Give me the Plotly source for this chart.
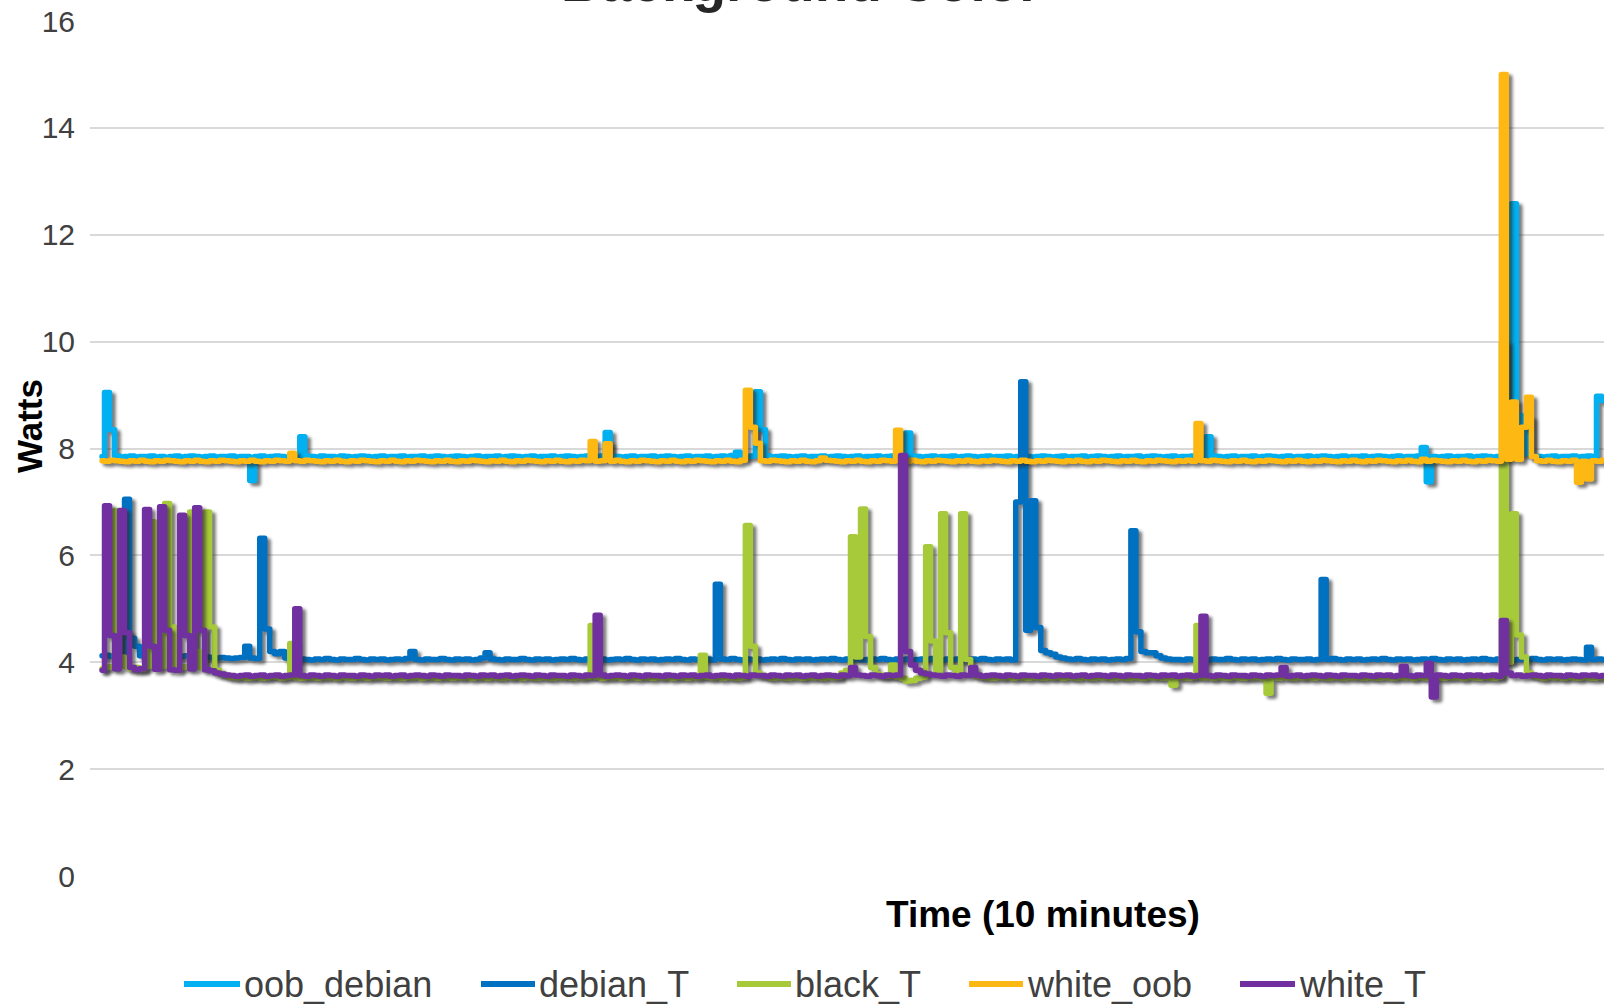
import plotly.graph_objects as go

# ---------------- data (Watts, one sample per time step) ----------------
series_names = ["oob_debian", "debian_T", "black_T", "white_oob", "white_T"]
series_colors = ["#00B0F0", "#0070C0", "#A6CA3A", "#FDB813", "#7030A0"]

oob_debian = [
    7.85, 9.05, 8.35, 7.86, 7.84, 7.85, 7.86, 7.84, 7.85, 7.85, 7.86, 7.84, 7.85, 7.83, 7.85, 7.86, 7.84, 7.85, 7.86, 7.85,
    7.84, 7.85, 7.86, 7.84, 7.85, 7.85, 7.86, 7.84, 7.85, 7.85, 7.40, 7.85, 7.86, 7.84, 7.85, 7.86, 7.85, 7.84, 7.85, 7.86,
    8.22, 7.86, 7.85, 7.84, 7.86, 7.85, 7.85, 7.84, 7.86, 7.85, 7.84, 7.85, 7.86, 7.85, 7.84, 7.85, 7.86, 7.84, 7.85, 7.85,
    7.86, 7.84, 7.85, 7.85, 7.86, 7.84, 7.85, 7.86, 7.85, 7.84, 7.85, 7.86, 7.85, 7.84, 7.85, 7.86, 7.84, 7.85, 7.85, 7.86,
    7.84, 7.85, 7.86, 7.85, 7.84, 7.85, 7.86, 7.84, 7.85, 7.85, 7.86, 7.84, 7.85, 7.86, 7.85, 7.84, 7.85, 7.86, 7.85, 7.84,
    7.86, 8.30, 7.86, 7.85, 7.84, 7.85, 7.86, 7.84, 7.85, 7.85, 7.86, 7.84, 7.85, 7.86, 7.85, 7.84, 7.85, 7.86, 7.84, 7.85,
    7.85, 7.86, 7.84, 7.85, 7.86, 7.85, 7.87, 7.93, 7.86, 7.85, 7.86, 9.06, 8.35, 7.86, 7.84, 7.85, 7.86, 7.85, 7.84, 7.85,
    7.86, 7.84, 7.85, 7.85, 7.86, 7.84, 7.85, 7.86, 7.85, 7.84, 7.85, 7.86, 7.84, 7.85, 7.85, 7.86, 7.84, 7.85, 7.86, 7.85,
    7.86, 8.29, 7.86, 7.85, 7.84, 7.85, 7.86, 7.84, 7.85, 7.85, 7.86, 7.84, 7.85, 7.86, 7.85, 7.84, 7.85, 7.86, 7.84, 7.85,
    7.85, 7.86, 7.84, 7.85, 7.86, 7.85, 7.84, 7.85, 7.86, 7.85, 7.84, 7.85, 7.86, 7.84, 7.85, 7.85, 7.86, 7.84, 7.85, 7.86,
    7.85, 7.84, 7.85, 7.86, 7.84, 7.85, 7.85, 7.86, 7.84, 7.85, 7.86, 7.85, 7.84, 7.85, 7.86, 7.84, 7.85, 7.85, 7.86, 7.84,
    7.85, 8.22, 7.86, 7.85, 7.84, 7.85, 7.86, 7.84, 7.85, 7.85, 7.86, 7.84, 7.85, 7.86, 7.85, 7.84, 7.85, 7.86, 7.84, 7.85,
    7.85, 7.86, 7.84, 7.85, 7.86, 7.85, 7.84, 7.85, 7.86, 7.84, 7.85, 7.85, 7.86, 7.84, 7.85, 7.86, 7.85, 7.84, 7.85, 7.86,
    7.84, 7.85, 7.85, 7.86, 8.02, 7.38, 7.85, 7.84, 7.85, 7.86, 7.84, 7.85, 7.85, 7.86, 7.84, 7.85, 7.86, 7.85, 7.84, 7.85,
    7.86, 7.90, 12.58, 8.62, 7.90, 8.56, 7.86, 7.85, 7.84, 7.85, 7.86, 7.84, 7.85, 7.85, 7.86, 7.84, 7.85, 7.86, 7.85, 8.98,
    8.90,
]

debian_T = [
    4.12, 4.13, 4.11, 4.12, 4.13, 7.05, 4.45, 4.30, 4.12, 4.11, 4.12, 4.13, 4.12, 4.11, 4.12, 4.13, 4.11, 4.12, 4.12, 4.11,
    4.12, 4.10, 4.09, 4.08, 4.09, 4.08, 4.07, 4.08, 4.09, 4.30, 4.08, 4.07, 6.32, 4.62, 4.20, 4.16, 4.20, 4.08, 4.06, 4.05,
    4.06, 4.05, 4.04, 4.06, 4.05, 4.07, 4.05, 4.04, 4.06, 4.05, 4.05, 4.07, 4.05, 4.04, 4.06, 4.05, 4.06, 4.04, 4.05, 4.06,
    4.05, 4.07, 4.20, 4.05, 4.04, 4.06, 4.05, 4.05, 4.07, 4.05, 4.04, 4.06, 4.05, 4.06, 4.04, 4.05, 4.08, 4.18, 4.06, 4.05,
    4.04, 4.06, 4.05, 4.05, 4.07, 4.05, 4.04, 4.06, 4.05, 4.06, 4.04, 4.05, 4.06, 4.05, 4.07, 4.05, 4.04, 4.06, 4.05, 4.05,
    4.06, 4.04, 4.05, 4.06, 4.05, 4.07, 4.05, 4.04, 4.06, 4.05, 4.06, 4.04, 4.05, 4.06, 4.05, 4.07, 4.05, 4.04, 4.06, 4.05,
    4.05, 4.06, 4.04, 5.46, 4.06, 4.05, 4.07, 4.05, 4.04, 4.06, 4.05, 4.06, 4.04, 4.05, 4.06, 4.05, 4.07, 4.05, 4.04, 4.06,
    4.05, 4.06, 4.04, 4.05, 4.06, 4.05, 4.07, 4.05, 4.04, 4.06, 4.05, 4.06, 4.04, 4.05, 4.06, 4.05, 4.07, 4.05, 4.04, 4.06,
    4.05, 4.06, 4.04, 4.05, 4.06, 4.05, 4.07, 4.05, 4.04, 4.06, 4.05, 4.06, 4.04, 4.05, 4.06, 4.05, 4.07, 4.05, 4.04, 4.06,
    4.05, 4.06, 4.04, 7.00, 9.25, 4.60, 7.02, 4.65, 4.22, 4.18, 4.15, 4.10, 4.08, 4.06, 4.05, 4.07, 4.05, 4.04, 4.06, 4.05,
    4.06, 4.04, 4.05, 4.06, 4.05, 4.07, 6.46, 4.57, 4.20, 4.18, 4.18, 4.12, 4.08, 4.06, 4.05, 4.05, 4.04, 4.06, 4.05, 4.06,
    4.05, 4.04, 4.06, 4.05, 4.05, 4.07, 4.05, 4.04, 4.06, 4.05, 4.06, 4.04, 4.05, 4.06, 4.05, 4.07, 4.05, 4.04, 4.06, 4.05,
    4.05, 4.06, 4.04, 4.05, 5.55, 4.05, 4.07, 4.05, 4.04, 4.06, 4.05, 4.06, 4.04, 4.05, 4.06, 4.05, 4.07, 4.05, 4.04, 4.06,
    4.05, 4.06, 4.04, 4.05, 4.06, 4.05, 4.07, 4.05, 4.04, 4.06, 4.05, 4.06, 4.04, 4.05, 4.06, 4.05, 4.07, 4.05, 4.04, 4.06,
    4.05, 4.06, 4.04, 4.05, 4.06, 4.05, 4.07, 4.05, 4.04, 4.06, 4.05, 4.06, 4.04, 4.05, 4.06, 4.05, 4.04, 4.28, 4.05, 4.06,
    4.05,
]

black_T = [
    3.88, 3.90, 3.92, 6.84, 4.10, 3.92, 3.88, 3.90, 3.87, 3.92, 6.63, 4.05, 3.92, 6.97, 4.66, 3.95, 3.90, 3.92, 6.81, 4.20,
    3.90, 6.81, 4.66, 3.85, 3.78, 3.75, 3.72, 3.71, 3.72, 3.70, 3.71, 3.72, 3.70, 3.71, 3.73, 3.72, 3.70, 3.72, 4.35, 3.71,
    3.70, 3.72, 3.71, 3.70, 3.72, 3.71, 3.73, 3.70, 3.72, 3.71, 3.70, 3.72, 3.71, 3.70, 3.72, 3.71, 3.73, 3.70, 3.72, 3.71,
    3.70, 3.72, 3.71, 3.73, 3.70, 3.72, 3.71, 3.70, 3.72, 3.71, 3.70, 3.72, 3.71, 3.73, 3.70, 3.72, 3.71, 3.70, 3.72, 3.71,
    3.70, 3.72, 3.71, 3.73, 3.70, 3.72, 3.71, 3.70, 3.72, 3.71, 3.70, 3.72, 3.71, 3.73, 3.70, 3.72, 3.71, 3.72, 4.69, 3.72,
    3.70, 3.72, 3.71, 3.73, 3.70, 3.72, 3.71, 3.70, 3.72, 3.71, 3.70, 3.72, 3.71, 3.73, 3.70, 3.72, 3.71, 3.70, 3.72, 3.71,
    4.13, 3.72, 3.71, 3.73, 3.70, 3.72, 3.71, 3.70, 3.72, 6.56, 4.30, 3.80, 3.75, 3.73, 3.70, 3.72, 3.71, 3.70, 3.72, 3.71,
    3.70, 3.72, 3.71, 3.73, 3.70, 3.72, 3.71, 3.72, 3.80, 3.85, 6.35, 4.10, 6.87, 4.48, 3.90, 3.78, 3.75, 3.74, 3.95, 3.72,
    3.70, 3.65, 3.66, 3.70, 3.72, 6.16, 4.40, 3.85, 6.78, 4.55, 3.90, 3.82, 6.78, 4.05, 3.80, 3.74, 3.72, 3.71, 3.70, 3.72,
    3.71, 3.73, 3.70, 3.72, 3.71, 3.70, 3.72, 3.71, 3.70, 3.72, 3.71, 3.73, 3.70, 3.72, 3.71, 3.70, 3.72, 3.71, 3.70, 3.72,
    3.71, 3.73, 3.70, 3.72, 3.71, 3.70, 3.72, 3.71, 3.70, 3.72, 3.71, 3.73, 3.70, 3.72, 3.57, 3.72, 3.71, 3.70, 3.72, 4.69,
    3.71, 3.73, 3.70, 3.72, 3.71, 3.70, 3.72, 3.71, 3.70, 3.72, 3.71, 3.73, 3.70, 3.42, 3.71, 3.70, 3.72, 3.71, 3.70, 3.72,
    3.71, 3.73, 3.70, 3.72, 3.71, 3.70, 3.72, 3.71, 3.70, 3.72, 3.71, 3.73, 3.70, 3.72, 3.71, 3.70, 3.72, 3.71, 3.70, 3.72,
    3.71, 3.73, 3.70, 3.72, 3.71, 3.70, 3.72, 3.71, 3.70, 3.72, 3.71, 3.73, 3.70, 3.72, 3.71, 3.70, 3.72, 3.71, 3.70, 3.72,
    9.97, 4.00, 6.78, 4.51, 4.10, 3.80, 3.75, 3.72, 3.70, 3.72, 3.71, 3.73, 3.70, 3.72, 3.71, 3.70, 3.72, 3.71, 3.70, 3.72,
    3.71,
]

white_oob = [
    7.77, 7.76, 7.78, 7.77, 7.76, 7.75, 7.77, 7.76, 7.78, 7.76, 7.75, 7.77, 7.76, 7.78, 7.77, 7.76, 7.75, 7.77, 7.76, 7.78,
    7.76, 7.75, 7.77, 7.76, 7.78, 7.77, 7.76, 7.75, 7.77, 7.76, 7.78, 7.76, 7.75, 7.77, 7.76, 7.78, 7.77, 7.76, 7.91, 7.77,
    7.76, 7.78, 7.77, 7.76, 7.75, 7.77, 7.76, 7.78, 7.76, 7.75, 7.77, 7.76, 7.78, 7.77, 7.76, 7.75, 7.77, 7.76, 7.78, 7.76,
    7.75, 7.77, 7.76, 7.78, 7.77, 7.76, 7.75, 7.77, 7.76, 7.78, 7.76, 7.75, 7.77, 7.76, 7.78, 7.77, 7.76, 7.75, 7.77, 7.76,
    7.78, 7.76, 7.75, 7.77, 7.76, 7.78, 7.77, 7.76, 7.75, 7.77, 7.76, 7.78, 7.76, 7.75, 7.77, 7.76, 7.78, 7.77, 8.13, 7.76,
    7.77, 8.09, 7.76, 7.78, 7.76, 7.75, 7.77, 7.76, 7.78, 7.77, 7.76, 7.75, 7.77, 7.76, 7.78, 7.76, 7.75, 7.77, 7.76, 7.78,
    7.77, 7.76, 7.75, 7.77, 7.76, 7.78, 7.76, 7.75, 7.78, 9.09, 8.40, 8.10, 7.77, 7.76, 7.78, 7.77, 7.76, 7.75, 7.77, 7.76,
    7.78, 7.76, 7.75, 7.77, 7.82, 7.78, 7.77, 7.76, 7.75, 7.77, 7.76, 7.78, 7.76, 7.75, 7.77, 7.76, 7.78, 7.77, 7.76, 8.34,
    7.77, 7.76, 7.78, 7.76, 7.75, 7.77, 7.76, 7.78, 7.77, 7.76, 7.75, 7.77, 7.76, 7.78, 7.76, 7.75, 7.77, 7.76, 7.78, 7.77,
    7.76, 7.75, 7.77, 7.76, 7.78, 7.76, 7.75, 7.77, 7.76, 7.78, 7.77, 7.76, 7.75, 7.77, 7.76, 7.78, 7.76, 7.75, 7.77, 7.76,
    7.78, 7.77, 7.76, 7.75, 7.77, 7.76, 7.78, 7.76, 7.75, 7.77, 7.76, 7.78, 7.77, 7.76, 7.75, 7.77, 7.76, 7.78, 7.76, 8.47,
    7.77, 7.76, 7.78, 7.77, 7.76, 7.75, 7.77, 7.76, 7.78, 7.76, 7.75, 7.77, 7.76, 7.78, 7.77, 7.76, 7.75, 7.77, 7.76, 7.78,
    7.76, 7.75, 7.77, 7.76, 7.78, 7.77, 7.76, 7.75, 7.77, 7.76, 7.78, 7.76, 7.75, 7.77, 7.76, 7.78, 7.77, 7.76, 7.75, 7.77,
    7.76, 7.78, 7.76, 7.75, 7.80, 7.76, 7.78, 7.77, 7.76, 7.75, 7.77, 7.76, 7.78, 7.76, 7.75, 7.77, 7.76, 7.78, 7.77, 7.76,
    15.00, 7.80, 8.87, 7.80, 8.40, 8.96, 7.85, 7.77, 7.76, 7.78, 7.76, 7.75, 7.77, 7.76, 7.78, 7.37, 7.76, 7.43, 7.77, 7.76,
    7.78,
]

white_T = [
    3.85, 6.93, 4.50, 3.88, 6.84, 4.55, 3.90, 3.86, 3.88, 6.86, 4.30, 3.87, 6.91, 4.60, 3.86, 3.85, 6.75, 4.50, 3.88, 6.89,
    4.60, 3.86, 3.84, 3.80, 3.78, 3.76, 3.75, 3.74, 3.75, 3.76, 3.74, 3.75, 3.76, 3.74, 3.75, 3.76, 3.74, 3.75, 3.76, 5.00,
    3.75, 3.74, 3.76, 3.75, 3.74, 3.76, 3.75, 3.74, 3.76, 3.75, 3.75, 3.74, 3.76, 3.75, 3.74, 3.76, 3.75, 3.76, 3.74, 3.75,
    3.76, 3.74, 3.75, 3.76, 3.75, 3.74, 3.76, 3.75, 3.74, 3.76, 3.75, 3.75, 3.74, 3.76, 3.75, 3.74, 3.76, 3.75, 3.76, 3.74,
    3.75, 3.76, 3.74, 3.75, 3.76, 3.75, 3.74, 3.76, 3.75, 3.74, 3.76, 3.75, 3.75, 3.74, 3.76, 3.75, 3.74, 3.76, 3.75, 4.88,
    3.76, 3.74, 3.75, 3.76, 3.75, 3.74, 3.76, 3.75, 3.74, 3.76, 3.75, 3.75, 3.74, 3.76, 3.75, 3.74, 3.76, 3.75, 3.76, 3.74,
    3.75, 3.76, 3.74, 3.75, 3.76, 3.75, 3.74, 3.76, 3.75, 3.74, 3.76, 3.75, 3.75, 3.74, 3.76, 3.75, 3.74, 3.76, 3.75, 3.76,
    3.74, 3.75, 3.76, 3.74, 3.75, 3.76, 3.75, 3.74, 3.76, 3.75, 3.90, 3.76, 3.75, 3.74, 3.76, 3.75, 3.74, 3.76, 3.75, 3.76,
    7.87, 4.20, 3.95, 3.85, 3.80, 3.78, 3.76, 3.75, 3.74, 3.76, 3.75, 3.74, 3.76, 3.75, 3.90, 3.76, 3.74, 3.75, 3.76, 3.75,
    3.74, 3.76, 3.75, 3.74, 3.76, 3.75, 3.75, 3.74, 3.76, 3.75, 3.74, 3.76, 3.75, 3.76, 3.74, 3.75, 3.76, 3.74, 3.75, 3.76,
    3.75, 3.74, 3.76, 3.75, 3.74, 3.76, 3.75, 3.75, 3.74, 3.76, 3.75, 3.74, 3.76, 3.75, 3.76, 3.74, 3.75, 3.76, 3.74, 3.75,
    4.86, 3.75, 3.74, 3.76, 3.75, 3.74, 3.76, 3.75, 3.75, 3.74, 3.76, 3.75, 3.74, 3.76, 3.75, 3.76, 3.90, 3.74, 3.75, 3.76,
    3.74, 3.75, 3.76, 3.75, 3.74, 3.76, 3.75, 3.74, 3.76, 3.75, 3.75, 3.74, 3.76, 3.75, 3.74, 3.76, 3.75, 3.76, 3.74, 3.75,
    3.92, 3.75, 3.74, 3.76, 3.75, 3.98, 3.35, 3.76, 3.75, 3.74, 3.76, 3.75, 3.74, 3.76, 3.75, 3.76, 3.74, 3.75, 3.76, 3.74,
    4.78, 3.80, 3.75, 3.76, 3.74, 3.75, 3.76, 3.75, 3.74, 3.76, 3.75, 3.75, 3.74, 3.76, 3.75, 3.74, 3.76, 3.75, 3.76, 3.74,
    3.75,
]

y_ticks = [0, 2, 4, 6, 8, 10, 12, 14, 16]
chart_title = "Background Color"
x_title = "Time (10 minutes)"
y_title = "Watts"

all_series = [oob_debian, debian_T, black_T, white_oob, white_T]
time_steps = list(range(len(oob_debian)))

# ---------------- layout geometry (pixels) ----------------
W, H = 1604, 1004
L, R, T, B = 90, 0, 21, 128
PW, PH = W - L - R, H - T - B
x_range = [-2.4, 300.0]
y_range = [0, 16]
px_per_x = PW / (x_range[1] - x_range[0])
px_per_y = PH / (y_range[1] - y_range[0])
shadow_dx = 3.5 / px_per_x
shadow_dy = 3.0 / px_per_y
LINE_W = 5.5


def paper_x(px):
    return (px - L) / PW


def paper_y(py):
    return (H - B - py) / PH


FONT = "Liberation Sans, Arial, sans-serif"
TEXT = "#404040"

fig = go.Figure()
for name, color, vals in zip(series_names, series_colors, all_series):
    # soft drop shadow (same data, shifted a few pixels right/down)
    fig.add_trace(go.Scatter(
        x=[t + shadow_dx for t in time_steps], y=[v - shadow_dy for v in vals],
        mode="lines", line=dict(color="rgba(40,40,40,0.6)", width=LINE_W, shape="hvh"),
        hoverinfo="skip", showlegend=False, name=name + " shadow"))
    fig.add_trace(go.Scatter(
        x=time_steps, y=vals, mode="lines", name=name,
        line=dict(color=color, width=LINE_W, shape="hvh"), showlegend=False))

shapes = []
annotations = []

# manual legend
legend_line_px = [(184, 240), (481, 535), (737, 791), (969, 1023), (1240, 1295)]
legend_y = 984
for (a, b), name, color in zip(legend_line_px, series_names, series_colors):
    shapes.append(dict(type="line", xref="paper", yref="paper",
                       x0=paper_x(a), x1=paper_x(b), y0=paper_y(legend_y), y1=paper_y(legend_y),
                       line=dict(color=color, width=6)))
    annotations.append(dict(text=name, xref="paper", yref="paper",
                            x=paper_x(b + 2), y=paper_y(legend_y),
                            xanchor="left", yanchor="middle", showarrow=False,
                            font=dict(family=FONT, size=36, color=TEXT)))

# axis titles and (cropped) chart title
annotations.append(dict(text="<b>" + x_title + "</b>", xref="paper", yref="paper",
                        x=paper_x(1043), y=paper_y(914), xanchor="center", yanchor="middle",
                        showarrow=False, font=dict(family=FONT, size=37, color="#000000")))
annotations.append(dict(text="<b>" + y_title + "</b>", xref="paper", yref="paper",
                        x=paper_x(29), y=paper_y(426), xanchor="center", yanchor="middle",
                        textangle=-90, showarrow=False,
                        font=dict(family=FONT, size=35, color="#000000")))
annotations.append(dict(text="<b>" + chart_title + "</b>", xref="paper", yref="paper",
                        x=paper_x(801), y=paper_y(-18), xanchor="center", yanchor="middle",
                        showarrow=False, font=dict(family=FONT, size=55, color="#262626")))

fig.update_layout(
    width=W, height=H,
    margin=dict(l=L, r=R, t=T, b=B, pad=0),
    paper_bgcolor="white", plot_bgcolor="white",
    showlegend=False,
    shapes=shapes, annotations=annotations,
    xaxis=dict(range=x_range, showgrid=False, zeroline=False, showline=False,
               showticklabels=False, ticks=""),
    yaxis=dict(range=y_range, tickvals=y_ticks, showgrid=True, gridcolor="#D9D9D9",
               gridwidth=1.5, zeroline=False, showline=False, ticks="",
               ticklabelstandoff=14,
               tickfont=dict(family=FONT, size=30, color=TEXT)),
)

post = """
document.body.style.margin = '0';
var gd = document.getElementById('{plot_id}');
function styleLines(){
  var svg = gd.querySelector('.main-svg');
  var defs = svg.querySelector('defs');
  if (defs && !document.getElementById('shblur')) {
    var ns = 'http://www.w3.org/2000/svg';
    var f = document.createElementNS(ns, 'filter');
    f.setAttribute('id', 'shblur');
    f.setAttribute('filterUnits', 'userSpaceOnUse');
    f.setAttribute('x', '-200'); f.setAttribute('y', '-200');
    f.setAttribute('width', '2400'); f.setAttribute('height', '1600');
    var b = document.createElementNS(ns, 'feGaussianBlur');
    b.setAttribute('stdDeviation', '1.5');
    f.appendChild(b); defs.appendChild(f);
  }
  gd.querySelectorAll('.scatterlayer .trace').forEach(function(t, i){
    var p = t.querySelector('.js-line');
    if (!p) return;
    p.style.strokeLinejoin = 'round';
    p.style.strokeLinecap = 'round';
    if (i % 2 === 0 && document.getElementById('shblur')) p.setAttribute('filter', 'url(#shblur)');
  });
}
styleLines();
gd.on('plotly_afterplot', styleLines);
"""

fig.write_html("out.html", post_script=post, config={"displayModeBar": False})
